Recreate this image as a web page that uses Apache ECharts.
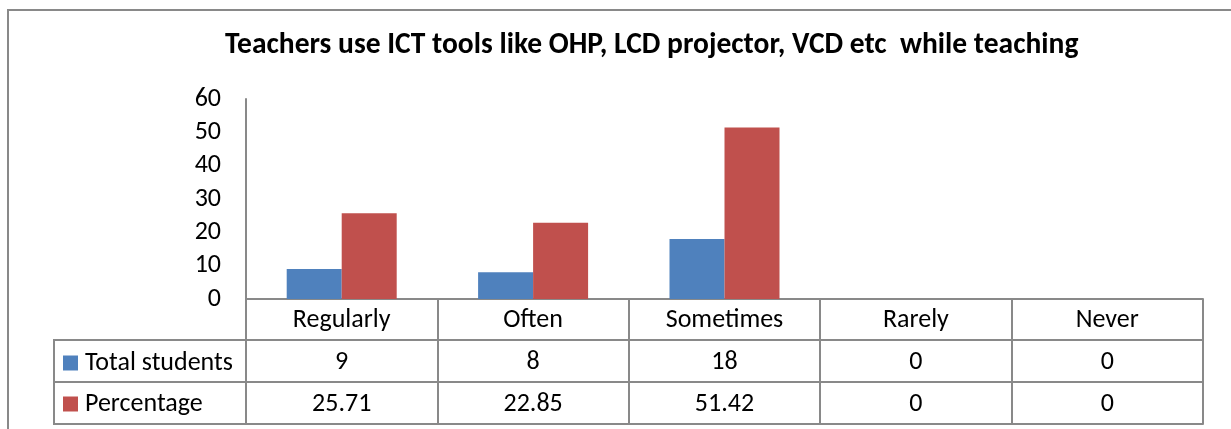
<!DOCTYPE html>
<html>
<head>
<meta charset="utf-8">
<script src="https://cdn.jsdelivr.net/npm/echarts@6/dist/echarts.min.js"></script>
<style>
  html, body { margin: 0; padding: 0; background: #fff; }
  #chart { width: 1231px; height: 429px; }
</style>
</head>
<body>
<div id="chart"></div>
<script>
// data
var categories = ["Regularly", "Often", "Sometimes", "Rarely", "Never"];
var totalStudents = [9, 8, 18, 0, 0];
var percentage = [25.71, 22.85, 51.42, 0, 0];
var seriesNames = ["Total students", "Percentage"];
var yTicks = { min: 0, max: 60, interval: 10 };

var FONT = "Carlito, Lato, sans-serif";
var GRAY = "#898989";
var FS = 26;

var chart = echarts.init(document.getElementById("chart"));

// one label-only x axis per table row, stacked under the plot
function rowAxis(offset, values) {
  return {
    type: "category",
    position: "bottom",
    offset: offset,
    data: categories,
    axisLine: { show: true, lineStyle: { color: GRAY, width: 2 } },
    axisTick: { show: true, interval: 0, length: 42, lineStyle: { color: GRAY, width: 2 } },
    axisLabel: {
      show: !!values,
      interval: 0,
      margin: 22,
      verticalAlign: "middle",
      color: "#000",
      fontFamily: FONT,
      fontSize: FS,
      formatter: function (v, i) { return values ? String(values[i]) : ""; }
    },
    splitLine: { show: false }
  };
}

var option = {
  animation: false,
  title: {
    text: "Teachers use ICT tools like OHP, LCD projector, VCD etc  while teaching",
    left: 220,
    top: 26,
    textStyle: { fontFamily: FONT, fontWeight: "bold", fontSize: 29.5, color: "#000" }
  },
  legend: {
    data: seriesNames,
    orient: "vertical",
    left: 63,
    top: 350,
    padding: 0,
    itemWidth: 15,
    itemHeight: 15,
    itemGap: 15,
    icon: "rect",
    selectedMode: false,
    textStyle: { fontFamily: FONT, fontSize: FS, color: "#000", padding: [0, 0, 0, 2] }
  },
  grid: { left: 246, right: 28, top: 99, bottom: 130, containLabel: false },
  xAxis: [
    {
      type: "category",
      data: categories,
      axisLine: { show: true, lineStyle: { color: GRAY, width: 2 } },
      axisTick: { show: true, interval: 0, length: 41, lineStyle: { color: GRAY, width: 2 } },
      axisLabel: {
        interval: 0, margin: 21, verticalAlign: "middle",
        color: "#000", fontFamily: FONT, fontSize: FS
      }
    },
    rowAxis(41, totalStudents),
    rowAxis(83, percentage),
    (function () {
      var a = rowAxis(125, null);
      a.axisTick = { show: false };
      return a;
    })()
  ],
  yAxis: {
    type: "value",
    min: yTicks.min,
    max: yTicks.max,
    interval: yTicks.interval,
    axisLine: { show: true, lineStyle: { color: GRAY, width: 2 } },
    axisTick: { show: false },
    splitLine: { show: false },
    axisLabel: { margin: 25, color: "#000", fontFamily: FONT, fontSize: FS, padding: [4, 0, 0, 0] }
  },
  series: [
    {
      name: seriesNames[0],
      type: "bar",
      data: totalStudents,
      barWidth: 55,
      barGap: "0%",
      itemStyle: { color: "#4F81BD" }
    },
    {
      name: seriesNames[1],
      type: "bar",
      data: percentage,
      barWidth: 55,
      barGap: "0%",
      itemStyle: { color: "#C0504D" }
    }
  ],
  graphic: [
    // outer chart-area frame
    { type: "rect", shape: { x: 8, y: 10, width: 1400, height: 600 },
      style: { fill: "none", stroke: GRAY, lineWidth: 2 }, z: -10 },
    // legend column of the data table
    { type: "line", shape: { x1: 54, y1: 340, x2: 246, y2: 340 }, style: { stroke: GRAY, lineWidth: 2 } },
    { type: "line", shape: { x1: 54, y1: 382, x2: 246, y2: 382 }, style: { stroke: GRAY, lineWidth: 2 } },
    { type: "line", shape: { x1: 54, y1: 424, x2: 246, y2: 424 }, style: { stroke: GRAY, lineWidth: 2 } },
    { type: "line", shape: { x1: 54, y1: 339, x2: 54, y2: 425 }, style: { stroke: GRAY, lineWidth: 2 } }
  ]
};

chart.setOption(option);
window.addEventListener("resize", function () { chart.resize(); });
</script>
</body>
</html>
